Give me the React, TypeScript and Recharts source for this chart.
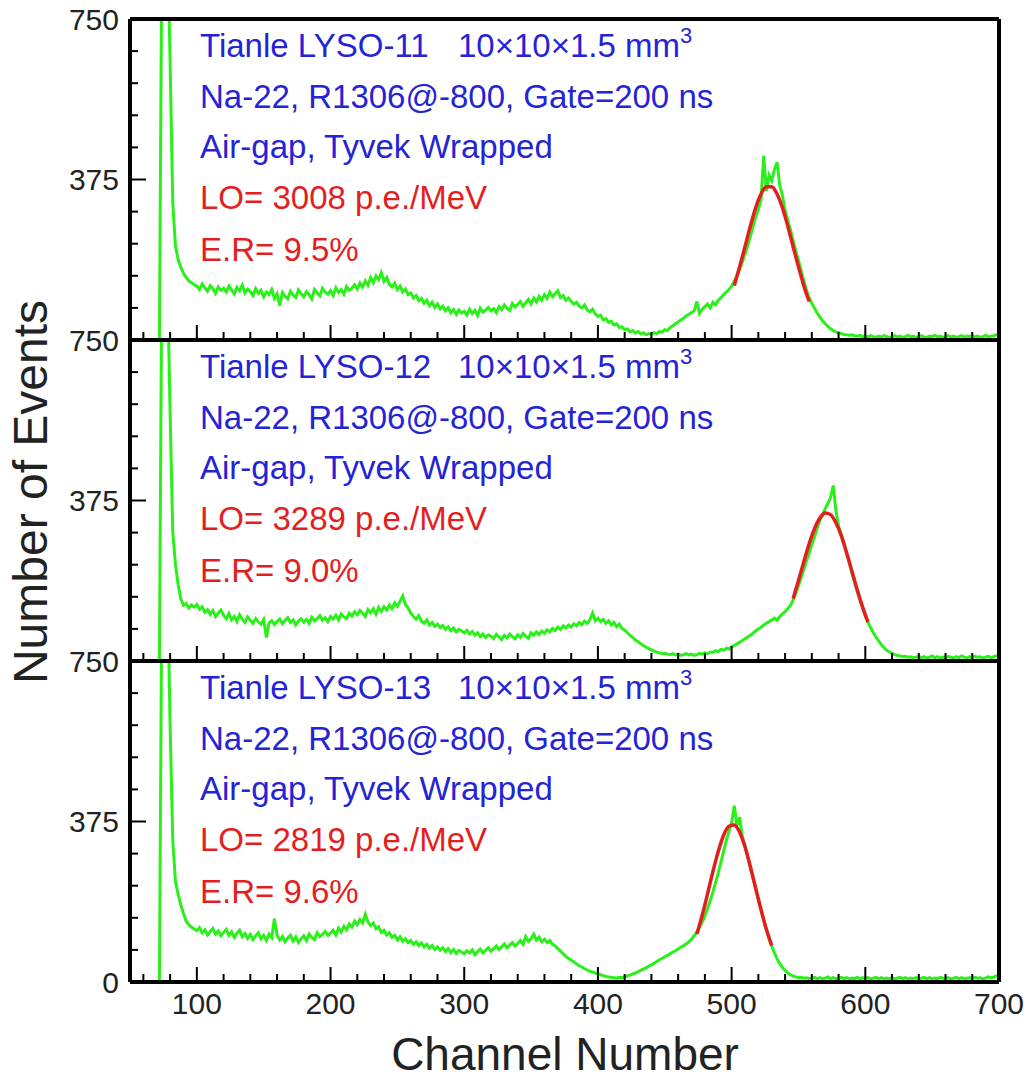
import React from 'react';
import { LineChart, Line, XAxis, YAxis } from 'recharts';

// histogram bins start at channel 60, 2 channels wide
const FIRST_CHANNEL = 60;
const BIN_WIDTH = 2;

const lyso11Counts = [
  0, 0, 0, 0, 0, 0, 0, 1000, 1000, 950,
  650, 320, 220, 188, 170, 156, 146, 138, 134, 129,
  126, 118, 131, 122, 114, 127, 120, 109, 124, 116,
  121, 112, 126, 117, 108, 123, 115, 128, 110, 119,
  113, 104, 120, 109, 116, 101, 112, 106, 118, 97,
  108, 80, 111, 102, 96, 114, 105, 99, 117, 108,
  101, 113, 106, 96, 118, 110, 103, 121, 112, 107,
  115, 104, 122, 111, 118, 107, 125, 116, 121, 129,
  119, 133, 124, 138, 128, 146, 134, 150, 141, 157,
  137, 146, 130, 124, 133, 118, 126, 112, 119, 106,
  110, 98, 104, 92, 97, 86, 93, 80, 88, 76,
  84, 73, 79, 68, 75, 64, 71, 60, 70, 63,
  67, 58, 72, 62, 69, 57, 74, 65, 70, 76,
  68, 73, 64, 78, 71, 82, 74, 69, 85, 77,
  83, 90, 79, 87, 95, 84, 98, 89, 102, 93,
  106, 97, 112, 101, 108, 115, 99, 104, 93, 98,
  90, 84, 88, 79, 75, 82, 70, 66, 72, 61,
  55, 58, 47, 50, 41, 44, 35, 38, 29, 31,
  24, 26, 19, 22, 16, 20, 14, 17, 12, 15,
  13, 17, 15, 20, 18, 24, 22, 29, 33, 38,
  42, 47, 51, 56, 60, 64, 68, 90, 62, 72,
  78, 84, 75, 88, 82, 93, 99, 106, 112, 118,
  126, 138, 150, 165, 182, 200, 220, 242, 265, 288,
  305, 328, 430, 348, 385, 372, 398, 415, 362, 338,
  302, 280, 258, 232, 208, 186, 162, 138, 116, 98,
  86, 74, 63, 54, 45, 38, 32, 26, 22, 19,
  17, 15, 13, 12, 11, 12, 10, 9, 11, 8,
  9, 7, 10, 8, 6, 9, 7, 10, 8, 6,
  8, 10, 7, 9, 6, 8, 11, 7, 9, 6,
  8, 10, 7, 6, 9, 8, 11, 7, 9, 6,
  8, 10, 7, 9, 6, 8, 10, 7, 9, 8,
  10, 7, 9, 6, 8, 11, 7, 9, 10, 12,
  14,
];

const lyso12Counts = [
  0, 0, 0, 0, 0, 0, 0, 1000, 1000, 900,
  580, 300, 225, 178, 146, 130, 134, 124, 131, 126,
  132, 121, 127, 114, 120, 109, 118, 104, 112, 119,
  107, 99, 111, 96, 104, 92, 108, 98, 90, 103,
  95, 88, 99, 91, 86, 97, 55, 89, 94, 85,
  92, 98, 87, 95, 101, 90, 96, 84, 93, 99,
  91, 97, 88, 102, 94, 99, 106, 95, 101, 92,
  104, 98, 107, 96, 110, 103, 99, 112, 105, 115,
  108, 118, 111, 104, 120, 113, 122, 109, 125, 116,
  127, 119, 131, 122, 136, 128, 140, 152, 132, 124,
  112, 104, 98, 106, 93, 88, 96, 84, 90, 81,
  86, 78, 83, 74, 80, 71, 77, 68, 74, 70,
  66, 72, 63, 69, 60, 66, 57, 63, 55, 61,
  58, 52, 62, 56, 50, 60, 54, 63, 57, 52,
  61, 55, 64, 58, 53, 66, 60, 68, 62, 70,
  65, 73, 68, 76, 71, 79, 74, 82, 77, 84,
  79, 87, 82, 90, 85, 93, 88, 96, 112, 94,
  100, 92, 97, 88, 94, 84, 90, 80, 86, 76,
  72, 66, 60, 55, 49, 45, 40, 36, 32, 29,
  26, 23, 21, 19, 17, 18, 16, 15, 17, 14,
  16, 13, 15, 17, 14, 16, 13, 15, 18, 16,
  19, 17, 21, 20, 24, 22, 27, 25, 30, 28,
  33, 36, 40, 44, 48, 52, 56, 60, 65, 70,
  75, 79, 84, 88, 92, 96, 100, 95, 104, 110,
  115, 122, 130, 142, 158, 176, 195, 214, 234, 252,
  272, 290, 310, 328, 342, 356, 368, 382, 410, 352,
  315, 296, 275, 252, 230, 205, 183, 162, 142, 124,
  106, 90, 78, 66, 56, 47, 38, 31, 25, 21,
  18, 15, 13, 12, 10, 11, 9, 10, 8, 9,
  11, 8, 10, 7, 9, 12, 8, 10, 7, 9,
  8, 11, 9, 7, 10, 8, 12, 9, 7, 10,
  8, 11, 9, 10, 7, 9, 11, 8, 10, 12,
  13,
];

const lyso13Counts = [
  0, 0, 0, 0, 0, 0, 0, 1000, 1000, 950,
  600, 330, 235, 205, 180, 160, 142, 134, 128, 124,
  120, 127, 115, 122, 110, 118, 125, 112, 119, 108,
  116, 123, 109, 117, 104, 114, 121, 106, 113, 102,
  111, 99, 108, 115, 101, 109, 97, 112, 104, 148,
  110, 98, 106, 94, 103, 109, 96, 105, 92, 101,
  108, 97, 112, 104, 99, 115, 106, 111, 118, 109,
  114, 121, 110, 126, 117, 130, 122, 136, 128, 142,
  134, 146, 138, 158, 140, 132, 138, 124, 129, 116,
  121, 110, 115, 104, 109, 98, 106, 95, 101, 92,
  97, 88, 94, 85, 91, 82, 88, 79, 85, 76,
  82, 74, 80, 71, 78, 69, 76, 67, 74, 70,
  66, 73, 68, 75, 64, 71, 77, 68, 74, 80,
  72, 78, 84, 76, 82, 89, 80, 86, 92, 84,
  90, 97, 88, 106, 95, 101, 112, 98, 105, 94,
  100, 92, 97, 88, 84, 78, 72, 66, 60, 55,
  51, 47, 42, 38, 35, 31, 28, 25, 23, 21,
  19, 17, 15, 13, 12, 11, 10, 9, 11, 10,
  12, 14, 16, 19, 21, 24, 27, 30, 33, 37,
  40, 44, 48, 52, 55, 59, 62, 66, 70, 73,
  77, 81, 85, 89, 94, 100, 108, 117, 128, 140,
  155, 172, 190, 210, 232, 255, 280, 305, 330, 352,
  372, 412, 365, 385, 340, 318, 292, 266, 242, 218,
  192, 168, 145, 122, 102, 84, 68, 54, 43, 34,
  27, 21, 17, 14, 12, 10, 11, 9, 10, 8,
  9, 11, 8, 10, 7, 9, 12, 8, 10, 7,
  9, 11, 8, 10, 7, 9, 8, 11, 7, 10,
  8, 10, 7, 9, 11, 8, 10, 7, 9, 8,
  10, 7, 9, 11, 8, 10, 7, 9, 8, 10,
  7, 9, 11, 8, 10, 7, 9, 8, 11, 9,
  8, 10, 7, 9, 11, 8, 10, 7, 9, 10,
  8, 11, 9, 10, 7, 9, 12, 10, 11, 14,
  16,
];

// gaussian fits around the photo peak
const fit11Channels = [502, 506, 510, 514, 518, 522, 526, 530, 534, 538, 542, 546, 550, 554, 558];
const fit11Values = [127, 171, 218, 266, 309, 341, 358, 358, 341, 309, 266, 218, 171, 127, 90];
const fit12Channels = [546, 550, 554, 558, 562, 566, 570, 574, 578, 582, 586, 590, 594, 598, 602];
const fit12Values = [146, 188, 232, 274, 309, 334, 346, 342, 323, 293, 253, 210, 166, 126, 91];
const fit13Channels = [474, 478, 482, 486, 490, 494, 498, 502, 506, 510, 514, 518, 522, 526, 530];
const fit13Values = [112, 156, 206, 258, 305, 343, 364, 367, 350, 316, 270, 219, 169, 123, 85];

const xTicks = [
  60, 80, 100, 120, 140, 160, 180, 200, 220, 240, 260, 280, 300, 320, 340, 360, 380,
  400, 420, 440, 460, 480, 500, 520, 540, 560, 580, 600, 620, 640, 660, 680, 700,
];
const yTicks = [0, 75, 150, 225, 300, 375, 450, 525, 600, 675, 750];

const crystals = ['Tianle LYSO-11', 'Tianle LYSO-12', 'Tianle LYSO-13'];
const lightOutputs = ['LO= 3008 p.e./MeV', 'LO= 3289 p.e./MeV', 'LO= 2819 p.e./MeV'];
const resolutions = ['E.R= 9.5%', 'E.R= 9.0%', 'E.R= 9.6%'];

const FONT = '"Liberation Sans", Arial, Helvetica, sans-serif';
const GREEN = '#2af01a';
const RED = '#e41e1e';
const BLUE = '#2424d6';
const PANEL_TOPS = [19, 340, 661];
const PANEL_H = 321;
const FRAME = { stroke: '#000', strokeWidth: 4 };

// ticks point into the frame, labels only where asked
function makeXTick(showLabels: boolean) {
  return (props: any) => {
    const { x, y, payload } = props;
    const major = payload.value % 100 === 0;
    return (
      <g>
        <line x1={x} y1={y} x2={x} y2={y - (major ? 15 : 8)} stroke="#000" strokeWidth={2} />
        {showLabels && major && (
          <text x={x} y={y + 32} textAnchor="middle" fontSize={30} fontFamily={FONT} fill="#222">
            {payload.value}
          </text>
        )}
      </g>
    );
  };
}

function makeYTick(showZero: boolean) {
  return (props: any) => {
    const { x, y, payload } = props;
    const v = payload.value;
    const edge = v === 0 || v === 750;
    const label = v === 750 || v === 375 || (v === 0 && showZero);
    return (
      <g>
        {!edge && <line x1={x} y1={y} x2={x + (v === 375 ? 16 : 8)} y2={y} stroke="#000" strokeWidth={2} />}
        {label && (
          <text x={x - 11} y={y} textAnchor="end" dominantBaseline="central" fontSize={30} fontFamily={FONT} fill="#222">
            {v}
          </text>
        )}
      </g>
    );
  };
}

interface PanelProps {
  counts: number[];
  fitChannels: number[];
  fitValues: number[];
  top: number;
  last: boolean;
}

function Panel({ counts, fitChannels, fitValues, top, last }: PanelProps) {
  const rows: { ch: number; counts: number; fit?: number }[] = counts.map((v, i) => ({
    ch: FIRST_CHANNEL + i * BIN_WIDTH,
    counts: v,
  }));
  fitChannels.forEach((c, i) => {
    const row = rows.find((r) => r.ch === c);
    if (row) row.fit = fitValues[i];
  });
  const bottom = last ? 60 : 20;

  return (
    <div style={{ position: 'absolute', left: 0, top: top - 20 }}>
      <LineChart
        width={1029}
        height={PANEL_H + 20 + bottom}
        data={rows}
        margin={{ top: 19, right: 29, bottom: bottom - 1, left: 0 }}
      >
        <XAxis
          dataKey="ch"
          type="number"
          domain={[50, 700]}
          ticks={xTicks}
          interval={0}
          allowDataOverflow
          height={1}
          tickSize={0}
          tickMargin={0}
          tickLine={false}
          axisLine={FRAME}
          tick={makeXTick(last)}
        />
        <XAxis
          xAxisId="top"
          orientation="top"
          dataKey="ch"
          type="number"
          domain={[50, 700]}
          allowDataOverflow
          height={1}
          tick={false}
          tickLine={false}
          axisLine={FRAME}
        />
        <YAxis
          type="number"
          domain={[0, 750]}
          ticks={yTicks}
          interval={0}
          allowDataOverflow
          width={130}
          tickSize={0}
          tickMargin={0}
          tickLine={false}
          axisLine={FRAME}
          tick={makeYTick(last)}
        />
        <YAxis
          yAxisId="right"
          orientation="right"
          type="number"
          domain={[0, 750]}
          allowDataOverflow
          width={1}
          tick={false}
          tickLine={false}
          axisLine={FRAME}
        />
        <Line
          dataKey="counts"
          type="linear"
          stroke={GREEN}
          strokeWidth={3}
          dot={false}
          isAnimationActive={false}
        />
        <Line
          dataKey="fit"
          type="monotone"
          stroke={RED}
          strokeWidth={3.5}
          dot={false}
          connectNulls
          isAnimationActive={false}
        />
      </LineChart>
    </div>
  );
}

const series = [
  { counts: lyso11Counts, fitChannels: fit11Channels, fitValues: fit11Values },
  { counts: lyso12Counts, fitChannels: fit12Channels, fitValues: fit12Values },
  { counts: lyso13Counts, fitChannels: fit13Channels, fitValues: fit13Values },
];

export default function App() {
  return (
    <div style={{ position: 'absolute', left: 0, top: 0, width: 1029, height: 1081, background: '#fff' }}>
      {series.map((s, i) => (
        <Panel key={i} {...s} top={PANEL_TOPS[i]} last={i === 2} />
      ))}
      <svg
        width={1029}
        height={1081}
        style={{ position: 'absolute', left: 0, top: 0, pointerEvents: 'none' }}
        fontFamily={FONT}
      >
        {PANEL_TOPS.map((t, i) => (
          <g key={i} fontSize={33}>
            <text x={200} y={t + 38} fill={BLUE}>
              {crystals[i]}
              <tspan x={458}>10×10×1.5 mm</tspan>
              <tspan dy={-14} fontSize={22}>3</tspan>
            </text>
            <text x={200} y={t + 89} fill={BLUE}>Na-22, R1306@-800, Gate=200 ns</text>
            <text x={200} y={t + 139} fill={BLUE}>Air-gap, Tyvek Wrapped</text>
            <text x={200} y={t + 190} fill={RED}>{lightOutputs[i]}</text>
            <text x={200} y={t + 242} fill={RED}>{resolutions[i]}</text>
          </g>
        ))}
        <text x={565} y={1070} textAnchor="middle" fontSize={46} fill="#222">
          Channel Number
        </text>
        <text x={47} y={492} textAnchor="middle" fontSize={48} fill="#222" transform="rotate(-90 47 492)">
          Number of Events
        </text>
      </svg>
    </div>
  );
}
